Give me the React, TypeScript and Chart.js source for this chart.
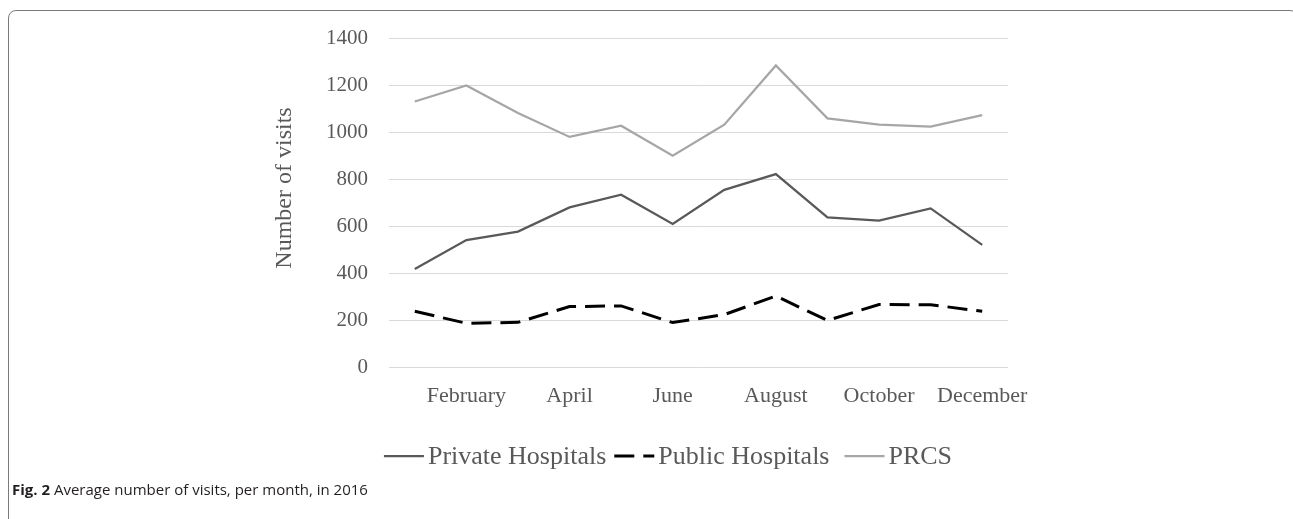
import { useEffect, useRef } from "react";
import { Chart, registerables } from "chart.js";

Chart.register(...registerables);

const months = [
  "January", "February", "March", "April", "May", "June",
  "July", "August", "September", "October", "November", "December",
];
const privateHospitals = [417, 540, 576, 679, 733, 609, 754, 821, 637, 623, 675, 520];
const publicHospitals = [237, 186, 190, 257, 260, 189, 223, 302, 198, 266, 265, 237];
const prcs = [1130, 1198, 1081, 979, 1027, 899, 1031, 1283, 1058, 1031, 1023, 1072];
const seriesNames = ["Private Hospitals", "Public Hospitals", "PRCS"];
const yMin = 0;
const yMax = 1400;
const yStep = 200;
const yTitle = "Number of visits";
const caption = "Average number of visits, per month, in 2016";

const SERIF = '"Liberation Serif", "Times New Roman", serif';
const TEXT = "#595959";

// Draws the rotated axis title and a line-sample legend under the plot.
const overlay = {
  id: "overlay",
  afterDraw(chart: any) {
    const ctx = chart.ctx as CanvasRenderingContext2D;
    ctx.save();
    ctx.translate(285, 188);
    ctx.rotate(-Math.PI / 2);
    ctx.font = `24px ${SERIF}`;
    ctx.fillStyle = TEXT;
    ctx.textAlign = "center";
    ctx.textBaseline = "middle";
    ctx.fillText(yTitle, 0, 0);
    ctx.restore();

    ctx.save();
    ctx.font = `26px ${SERIF}`;
    const sample = 40;
    const gapText = 4;
    const gaps = [8, 15];
    const ds = chart.data.datasets;
    const widths = ds.map((d: any) => ctx.measureText(d.label).width);
    let total = 0;
    widths.forEach((w: number, i: number) => {
      total += sample + gapText + w + (i < widths.length - 1 ? gaps[i] : 0);
    });
    let x = 668 - total / 2;
    const y = 456;
    ds.forEach((d: any, i: number) => {
      ctx.beginPath();
      ctx.strokeStyle = d.borderColor;
      ctx.lineWidth = d.borderWidth;
      ctx.setLineDash(d.borderDash || []);
      ctx.moveTo(x, y);
      ctx.lineTo(x + sample, y);
      ctx.stroke();
      ctx.setLineDash([]);
      x += sample + gapText;
      ctx.fillStyle = TEXT;
      ctx.textAlign = "left";
      ctx.textBaseline = "middle";
      ctx.fillText(d.label, x, y + 1);
      x += widths[i] + (i < gaps.length ? gaps[i] : 0);
    });
    ctx.restore();
  },
};

export default function App() {
  const ref = useRef<HTMLCanvasElement>(null);

  useEffect(() => {
    if (!ref.current) return;
    const chart = new Chart(ref.current, {
      type: "line",
      data: {
        labels: months,
        datasets: [
          {
            label: seriesNames[0],
            data: privateHospitals,
            borderColor: "#595959",
            borderWidth: 2.25,
            pointRadius: 0,
            tension: 0,
          },
          {
            label: seriesNames[1],
            data: publicHospitals,
            borderColor: "#000000",
            borderWidth: 3,
            borderDash: [20, 9],
            pointRadius: 0,
            tension: 0,
          },
          {
            label: seriesNames[2],
            data: prcs,
            borderColor: "#a6a6a6",
            borderWidth: 2.25,
            pointRadius: 0,
            tension: 0,
          },
        ],
      },
      options: {
        responsive: false,
        animation: false,
        events: [],
        layout: { padding: { left: 270, right: 285, top: 38, bottom: 92 } },
        plugins: {
          legend: { display: false },
          tooltip: { enabled: false },
          title: { display: false },
        },
        scales: {
          x: {
            offset: true,
            grid: { display: false, drawTicks: false },
            border: { display: false },
            ticks: {
              autoSkip: false,
              maxRotation: 0,
              padding: 16,
              color: TEXT,
              font: { family: SERIF, size: 22 },
              callback: (_v: any, i: number) => (i % 2 === 1 ? months[i] : ""),
            },
            afterFit: (s: any) => {
              s.height = 60;
            },
          },
          y: {
            min: yMin,
            max: yMax,
            grid: { color: "#d9d9d9", lineWidth: 1, drawTicks: false },
            border: { display: false },
            ticks: {
              stepSize: yStep,
              padding: 21,
              color: TEXT,
              font: { family: SERIF, size: 21 },
              callback: (v: any) => String(v),
            },
            afterFit: (s: any) => {
              s.width = 119;
            },
          },
        },
      },
      plugins: [overlay],
    });
    return () => chart.destroy();
  }, []);

  return (
    <div style={{ position: "fixed", left: 0, top: 0, width: 1293, height: 519, background: "#fff", overflow: "hidden" }}>
      <div
        style={{
          position: "absolute",
          left: 8,
          top: 10,
          width: 1290,
          height: 600,
          border: "1.5px solid #7a7a7a",
          borderTopLeftRadius: 8,
          borderTopRightRadius: 8,
          boxSizing: "border-box",
        }}
      />
      <canvas ref={ref} width={1293} height={519} style={{ position: "absolute", left: 0, top: 0 }} />
      <div
        style={{
          position: "absolute",
          left: 12,
          top: 479,
          fontFamily: '"Open Sans", "Noto Sans", sans-serif',
          fontSize: 15,
          color: "#231f20",
          whiteSpace: "nowrap",
        }}
      >
        <b>Fig. 2</b> {caption}
      </div>
    </div>
  );
}
